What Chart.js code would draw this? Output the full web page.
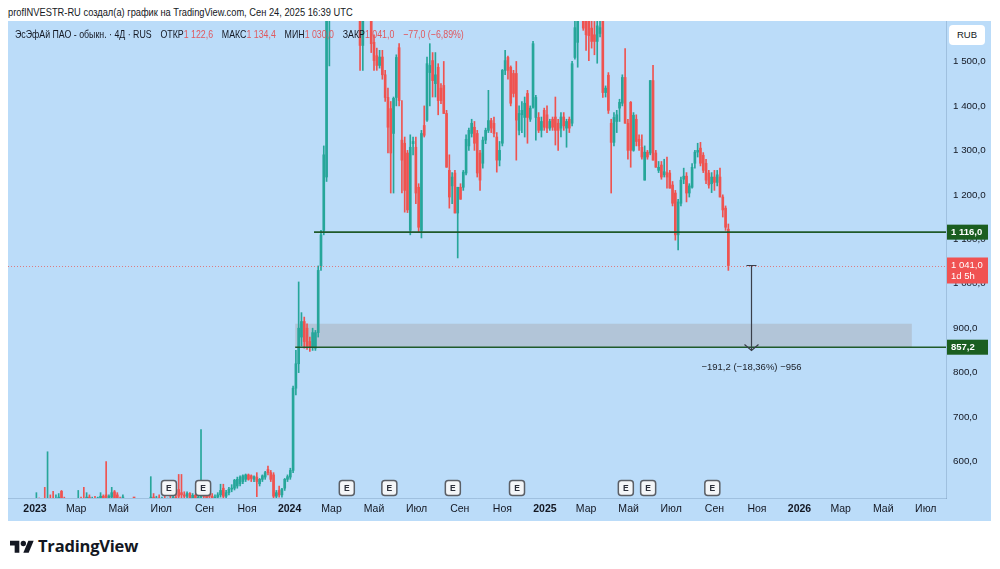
<!DOCTYPE html>
<html><head><meta charset="utf-8">
<script src="https://cdn.jsdelivr.net/npm/chart.js@4.4.1/dist/chart.umd.min.js"></script>
<style>
html,body{margin:0;padding:0;background:#fff;width:1000px;height:569px;overflow:hidden;font-family:"Liberation Sans",Arial,sans-serif;}
#hdr{position:absolute;left:8px;top:4px;font-size:11px;line-height:16px;color:#131722;white-space:nowrap;transform:scaleX(0.845);transform-origin:0 0;}
#panel{position:absolute;left:8px;top:21px;width:983px;height:500px;background:#bbdcf9;}
#c{position:absolute;left:0;top:0;}
#legend{position:absolute;left:7px;top:5px;font-size:11px;line-height:16px;color:#131722;white-space:nowrap;transform:scaleX(0.8);transform-origin:0 0;}
#legend .v{color:#e0585e;}
#legend .g{margin-left:11px;}
#rub{position:absolute;left:941px;top:4px;width:36px;height:20px;background:#fff;border-radius:4px;font-size:9.5px;line-height:20px;text-align:center;color:#131722;}
#logo{position:absolute;left:10px;top:536px;height:18px;display:flex;align-items:center;}
#logo span{font-family:"Open Sans",sans-serif;font-weight:700;font-size:16.5px;color:#131722;margin-left:4px;letter-spacing:-0.2px;}
</style></head>
<body>
<div id="hdr">profINVESTR-RU создал(а) график на TradingView.com, Сен 24, 2025 16:39 UTC</div>
<div id="panel">
<canvas id="c" width="983" height="500"></canvas>
<div id="legend">ЭсЭфАй ПАО - обыкн. · 4Д · RUS<span class="g">ОТКР</span><span class="v">1 122,6</span><span class="g">МАКС</span><span class="v">1 134,4</span><span class="g">МИН</span><span class="v">1 030,0</span><span class="g">ЗАКР</span><span class="v">1 041,0</span><span class="g v">−77,0 (−6,89%)</span></div>
<div id="rub">RUB</div>
</div>
<div id="logo"><svg width="24" height="15" viewBox="0 0 36 22"><path d="M14 22H7V11H0V4h14v18z" fill="#131722"/><circle cx="20" cy="8" r="4" fill="#131722"/><path d="M28 22h-8l7.5-18h8L28 22z" fill="#131722"/></svg><span>TradingView</span></div>
<script>
// ---- data (4-day candles, day 0 = 2023-01-01) ----
const firstBarDay = 2;
const barStepDays = 4;
const openPrices = [
500,510,505,515,505,515,515,505,515,533,515,505,500,495,500,510,515,515,505,520,
510,515,512,518,522,525,515,520,532,525,515,508,505,495,485,490,488,492,500,496,
505,510,520,515,518,512,516,510,514,509,520,537,530,525,522,528,515,524,512,520,
528,522,530,522,515,520,525,540,522,530,538,540,545,550,555,560,570,568,560,565,
550,560,565,582,575,570,522,535,525,540,560,565,580,765,820,880,915,900,870,858,
855,890,1040,1120,1240,1700,1900,2100,2050,1950,2000,1920,1850,1900,1780,1720,1650,1536,1620,1680,
1640,1543,1513,1491,1510,1470,1419,1394,1338,1419,1531,1323,1316,1294,1120,1315,1307,1217,1120,1356,
1368,1475,1502,1450,1487,1440,1446,1383,1255,1220,1249,1159,1217,1217,1249,1310,1338,1352,1338,1294,
1271,1323,1345,1367,1361,1330,1278,1316,1480,1509,1487,1473,1473,1345,1380,1374,1428,1370,1397,1374,
1374,1345,1390,1380,1350,1370,1375,1361,1350,1375,1350,1370,1361,1509,1543,1650,1640,1600,1610,1575,
1560,1545,1563,1600,1430,1469,1361,1318,1365,1395,1406,1464,1361,1408,1300,1370,1325,1307,1233,1296,
1294,1457,1294,1255,1267,1245,1250,1249,1222,1204,1110,1181,1235,1242,1204,1217,1271,1296,1305,1289,
1271,1249,1225,1240,1228,1240,1195,1170,1122.6];
const highPrices = [
530,518,515,542,622,525,533,525,528,535,520,512,508,505,515,535,520,542,530,525,
520,522,520,530,525,600,525,542,535,530,520,525,510,500,495,498,495,505,510,508,
515,566,528,522,525,520,524,518,522,530,528,571,571,532,532,530,528,526,525,672,
535,530,533,528,525,530,549,549,535,542,548,560,565,568,570,572,572,570,568,575,
562,570,578,590,580,575,535,545,540,562,570,585,770,850,1004,935,925,910,880,900,
895,1040,1120,1310,1700,2000,2150,2250,2150,2050,2100,1980,1950,1960,1850,1800,1700,1650,1700,1720,
1660,1560,1530,1525,1525,1480,1440,1410,1420,1515,1540,1412,1330,1300,1335,1330,1330,1225,1345,1400,
1510,1540,1520,1520,1495,1450,1500,1390,1290,1250,1255,1217,1225,1255,1335,1350,1370,1365,1345,1300,
1330,1350,1435,1372,1375,1340,1320,1482,1525,1512,1490,1480,1500,1400,1410,1420,1435,1400,1545,1424,
1385,1375,1395,1400,1370,1375,1420,1370,1385,1385,1370,1375,1500,1600,1700,1750,1680,1650,1660,1600,
1590,1600,1600,1620,1445,1475,1370,1385,1390,1415,1470,1529,1370,1410,1385,1380,1335,1335,1310,1300,
1457,1491,1300,1275,1275,1280,1285,1255,1230,1210,1190,1240,1260,1250,1225,1270,1300,1316,1318,1295,
1280,1255,1250,1255,1255,1260,1200,1175,1134.4];
const lowPrices = [
495,498,495,500,500,500,500,498,505,510,500,495,490,488,495,505,500,500,500,505,
500,505,505,510,505,505,510,512,515,510,505,500,490,480,478,482,480,488,492,490,
500,505,510,505,510,505,508,502,506,505,512,518,515,515,518,512,510,510,508,515,
518,512,515,510,510,515,520,518,518,525,532,536,540,545,550,555,558,555,555,521,
545,555,560,570,555,515,515,520,520,535,555,560,575,750,800,860,855,852,848,850,
850,880,1030,1110,1230,1490,1800,2000,1900,1850,1900,1800,1780,1750,1700,1650,1480,1480,1600,1610,
1520,1480,1480,1485,1460,1410,1294,1204,1204,1400,1400,1204,1161,1160,1110,1290,1180,1115,1103,1330,
1365,1400,1420,1420,1380,1405,1383,1262,1170,1180,1159,1058,1190,1210,1245,1300,1330,1300,1240,1210,
1260,1315,1340,1340,1330,1251,1265,1310,1470,1460,1400,1420,1278,1335,1340,1330,1316,1365,1395,1323,
1340,1330,1345,1340,1345,1345,1312,1300,1330,1345,1307,1340,1355,1505,1487,1600,1570,1525,1502,1530,
1515,1496,1555,1419,1420,1383,1204,1310,1340,1365,1400,1361,1280,1262,1298,1310,1300,1280,1233,1280,
1290,1278,1262,1250,1235,1240,1215,1215,1175,1098,1076,1175,1225,1184,1195,1215,1260,1285,1265,1250,
1225,1215,1205,1210,1220,1195,1150,1120,1030];
const closePrices = [
510,505,512,505,515,508,505,515,520,515,505,500,495,500,510,515,505,505,520,510,
515,512,518,522,510,515,522,530,518,515,508,510,495,485,490,488,492,500,496,505,
510,520,515,518,512,516,510,514,509,520,515,522,525,522,528,515,524,512,520,528,
522,518,522,515,520,525,535,522,530,538,540,558,560,565,568,570,560,562,566,555,
560,568,575,575,560,522,530,525,538,560,566,580,765,820,900,915,870,860,858,890,
890,1030,1110,1290,1680,1900,2100,2050,1950,2000,1920,1850,1900,1780,1720,1700,1536,1620,1680,1640,
1540,1502,1491,1510,1470,1419,1352,1294,1417,1509,1412,1278,1210,1166,1307,1320,1204,1127,1338,1334,
1495,1491,1457,1470,1412,1412,1383,1262,1195,1240,1159,1217,1190,1251,1325,1345,1361,1316,1249,1233,
1323,1345,1367,1350,1338,1278,1300,1480,1502,1480,1406,1428,1368,1383,1390,1406,1374,1395,1540,1419,
1345,1365,1352,1350,1365,1352,1345,1345,1375,1355,1365,1350,1495,1576,1650,1700,1575,1560,1558,1545,
1545,1580,1576,1430,1440,1390,1318,1374,1380,1408,1464,1361,1300,1300,1379,1320,1310,1285,1296,1285,
1457,1278,1262,1262,1240,1252,1240,1215,1181,1110,1184,1233,1242,1204,1220,1262,1296,1300,1271,1255,
1233,1222,1240,1228,1245,1195,1166,1127,1041];

// axis ticks
const tickYears  = [2023,2023,2023,2023,2023,2023,2024,2024,2024,2024,2024,2024,2025,2025,2025,2025,2025,2025,2026,2026,2026,2026];
const tickMonths = [0,2,4,6,8,10,0,2,4,6,8,10,0,2,4,6,8,10,0,2,4,6];
const tickLabels = ['2023','Мар','Май','Июл','Сен','Ноя','2024','Мар','Май','Июл','Сен','Ноя','2025','Мар','Май','Июл','Сен','Ноя','2026','Мар','Май','Июл'];
const priceTicks = [600,700,800,900,1000,1100,1200,1300,1400,1500];

// drawings
const levelPrices = [1116.0, 857.2];
const levelStartDays = [400, 373];
const zoneDays = [373, 1257];
const zonePrices = [910, 857.2];
const lastPrice = 1041.0;
const lastLabel2 = '1d 5h';
const measureDay = 1026;
const measureFrom = 1041.0;
const measureTo = 849.8;
const measureText = '−191,2 (−18,36%) −956';
const earningsDays = [192, 241, 447, 508, 599, 691, 847, 879, 971];

// ---- build ----
const UP = '#26a69a', DOWN = '#ef5350';
const DAY0 = Date.UTC(2023,0,1);
const tickDays = tickYears.map((y,i)=>Math.round((Date.UTC(y,tickMonths[i],1)-DAY0)/86400000));
const barDays = openPrices.map((_,i)=>firstBarDay + barStepDays*i);
const colors = openPrices.map((o,i)=> closePrices[i] >= o ? UP : DOWN);
const wickData = barDays.map((d,i)=>({x:d, y:[lowPrices[i], highPrices[i]]}));
const bodyData = barDays.map((d,i)=>({x:d, y:[openPrices[i], closePrices[i]]}));
const fmt = v => { const s = v.toFixed(1).replace('.',','); return v>=1000 ? s.slice(0,1)+' '+s.slice(1) : s; };
const FONT = '"Liberation Sans",Arial,sans-serif';

function roundRect(ctx,x,y,w,h,r){ctx.beginPath();ctx.moveTo(x+r,y);ctx.lineTo(x+w-r,y);ctx.quadraticCurveTo(x+w,y,x+w,y+r);ctx.lineTo(x+w,y+h-r);ctx.quadraticCurveTo(x+w,y+h,x+w-r,y+h);ctx.lineTo(x+r,y+h);ctx.quadraticCurveTo(x,y+h,x,y+h-r);ctx.lineTo(x,y+r);ctx.quadraticCurveTo(x,y,x+r,y);ctx.closePath();}

const overlay = {
  id:'overlay',
  beforeDatasetsDraw(chart){
    const {ctx, chartArea:a, scales:{x,y}} = chart;
    ctx.save();
    ctx.fillStyle='rgba(172,178,190,0.55)';
    const x0=x.getPixelForValue(zoneDays[0]), x1=x.getPixelForValue(zoneDays[1]);
    const y0=y.getPixelForValue(zonePrices[0]), y1=y.getPixelForValue(zonePrices[1]);
    ctx.fillRect(x0,y0,x1-x0,y1-y0);
    ctx.restore();
  },
  afterDatasetsDraw(chart){
    const {ctx, chartArea:a, scales:{x,y}} = chart;
    ctx.save();
    const yl = Math.round(y.getPixelForValue(lastPrice))+0.5;
    ctx.strokeStyle='rgba(230,100,100,0.8)'; ctx.lineWidth=1; ctx.setLineDash([1,2]);
    ctx.beginPath(); ctx.moveTo(a.left,yl); ctx.lineTo(a.right,yl); ctx.stroke();
    ctx.setLineDash([]);
    ctx.strokeStyle='#1f5a2a'; ctx.lineWidth=1.6;
    levelPrices.forEach((p,i)=>{
      const yy=y.getPixelForValue(p);
      ctx.beginPath(); ctx.moveTo(x.getPixelForValue(levelStartDays[i]),yy); ctx.lineTo(a.right,yy); ctx.stroke();
    });
    const mx=Math.round(x.getPixelForValue(measureDay))+0.5, my0=y.getPixelForValue(measureFrom), my1=y.getPixelForValue(measureTo);
    ctx.strokeStyle='#3a3f4a'; ctx.lineWidth=1.2;
    ctx.beginPath(); ctx.moveTo(mx,my0); ctx.lineTo(mx,my1);
    ctx.moveTo(mx-5,my0); ctx.lineTo(mx+5,my0);
    ctx.moveTo(mx-7,my1-6); ctx.lineTo(mx,my1); ctx.lineTo(mx+7,my1-6);
    ctx.stroke();
    ctx.fillStyle='#20242c'; ctx.font='9.5px '+FONT; ctx.textAlign='center'; ctx.textBaseline='middle';
    ctx.fillText(measureText, mx, my1+17);
    earningsDays.forEach(d=>{
      const ex=x.getPixelForValue(d), ey=a.bottom-10;
      ctx.fillStyle='#f4f6f8'; ctx.strokeStyle='#5b5f66'; ctx.lineWidth=1.5;
      roundRect(ctx,ex-7.5,ey-7.5,15,15,3); ctx.fill(); ctx.stroke();
      ctx.fillStyle='#2a2e39'; ctx.font='bold 8.5px '+FONT; ctx.textAlign='center'; ctx.textBaseline='middle';
      ctx.fillText('E', ex, ey+0.5);
    });
    ctx.restore();
  },
  afterDraw(chart){
    const {ctx, chartArea:a, scales:{y}} = chart;
    ctx.save();
    ctx.textAlign='left'; ctx.textBaseline='middle';
    levelPrices.forEach(p=>{
      const yy=y.getPixelForValue(p);
      ctx.fillStyle='#1b5e20'; ctx.fillRect(a.right+1, yy-7.5, 41, 15);
      ctx.fillStyle='#ffffff'; ctx.font='bold 9.5px '+FONT; ctx.fillText(fmt(p), a.right+5, yy+0.5);
    });
    const yl=y.getPixelForValue(lastPrice);
    ctx.fillStyle='#f05252'; ctx.fillRect(a.right+1, yl-8, 41, 26);
    ctx.fillStyle='#ffffff'; ctx.font='9.5px '+FONT;
    ctx.fillText(fmt(lastPrice), a.right+5, yl);
    ctx.fillText(lastLabel2, a.right+5, yl+11);
    ctx.restore();
  }
};

new Chart(document.getElementById('c'), {
  type:'bar',
  data:{datasets:[
    {data:wickData, backgroundColor:colors, barThickness:1, grouped:false, order:2},
    {data:bodyData, backgroundColor:colors, barThickness:2, grouped:false, minBarLength:1, order:1}
  ]},
  options:{
    responsive:false, animation:false, maintainAspectRatio:false,
    layout:{padding:0, autoPadding:false},
    plugins:{legend:{display:false}, tooltip:{enabled:false}},
    scales:{
      x:{type:'linear', min:-38.7, max:1306, offset:false,
         grid:{display:false, drawTicks:false},
         border:{display:true, color:'rgba(110,140,175,0.35)'},
         afterBuildTicks:s=>{s.ticks=tickDays.map(v=>({value:v}));},
         afterFit:s=>{s.height=23; s.paddingLeft=0; s.paddingRight=0;},
         ticks:{autoSkip:false, maxRotation:0, padding:5, color:'#131722',
           font:c=>({family:FONT, size:10.5, weight: /^\d{4}$/.test(c.tick && c.tick.label) ? 'bold':'normal'}),
           callback:(v,i)=>tickLabels[i]}},
      y:{position:'right', min:518, max:1591,
         grid:{display:false, drawTicks:false},
         border:{display:true, color:'rgba(110,140,175,0.35)'},
         afterBuildTicks:s=>{s.ticks=priceTicks.map(v=>({value:v}));},
         afterFit:s=>{s.width=45; s.paddingTop=0; s.paddingBottom=0;},
         ticks:{padding:7, color:'#131722', font:{family:FONT, size:9.8}, callback:v=>fmt(v)}}
    }
  },
  plugins:[overlay]
});
</script>
</body></html>
